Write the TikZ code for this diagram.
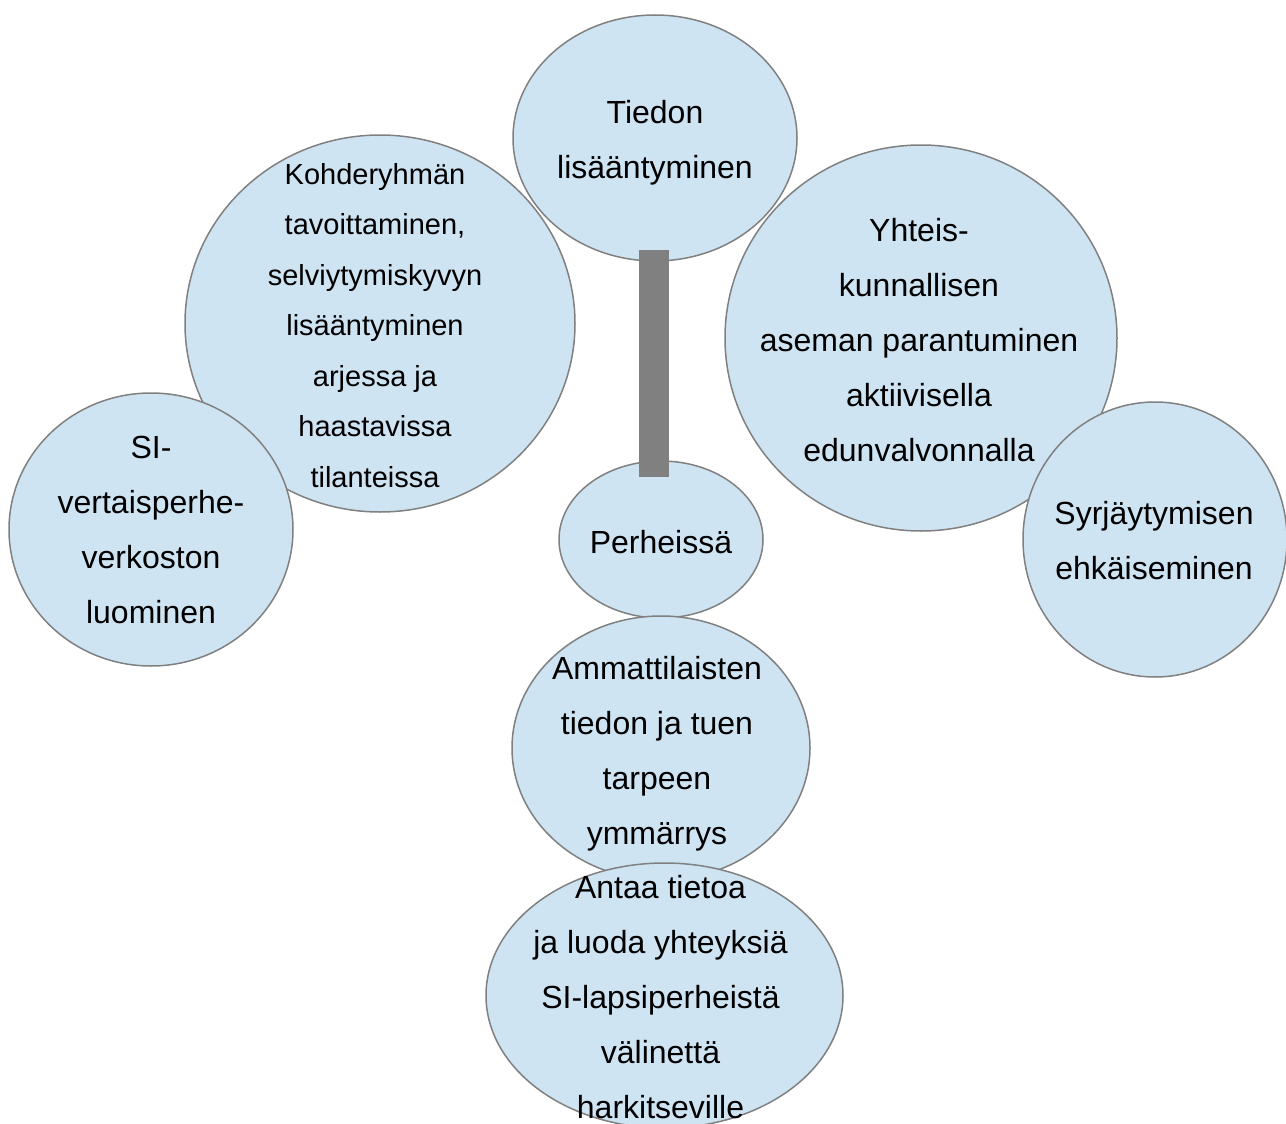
\documentclass[tikz,border=0pt]{standalone}
\usepackage{fontspec}
\setmainfont{Liberation Sans}
\usepackage{xcolor}
\usepackage{tikz}
\usetikzlibrary{shapes.geometric, positioning}

\definecolor{bubblefill}{HTML}{CFE4F2}
\definecolor{bubbleline}{HTML}{808080}

\begin{document}
\begin{tikzpicture}[x=1pt, y=-1pt,
goal/.style={ellipse, draw=bubbleline, fill=bubblefill, line width=1.5pt, inner sep=0pt},
goaltext/.style={align=center, inner sep=0pt, text=black, font=\fontsize{32}{55}\selectfont},
stem/.style={rectangle, fill=bubbleline, draw=none, minimum width=30pt, minimum height=227pt, inner sep=0pt}
]
	\useasboundingbox (0,0) rectangle (1286,1124);
	\node[goal, minimum width=390pt, minimum height=377pt] (n2) at (380,323.5) {};
	\node[goaltext, font=\fontsize{29}{50.5}\selectfont, shift={(-5,2)}] (t2) at (n2) {Kohderyhmän\\tavoittaminen,\\selviytymiskyvyn\\lisääntyminen\\arjessa ja\\haastavissa\\tilanteissa};
	\node[goal, minimum width=392pt, minimum height=386pt] (n4) at (921,338) {};
	\node[goaltext, shift={(-2,2)}] (t4) at (n4) {Yhteis-\\kunnallisen\\aseman parantuminen\\aktiivisella\\edunvalvonnalla};
	\node[goal, minimum width=284pt, minimum height=246pt] (n1) at (655,138) {};
	\node[goaltext, shift={(0,5)}] (t1) at (n1) {Tiedon\\lisääntyminen};
	\node[goal, minimum width=284pt, minimum height=273pt] (n3) at (151,529.5) {};
	\node[goaltext, shift={(0,0)}] (t3) at (n3) {SI-\\vertaisperhe-\\verkoston\\luominen};
	\node[goal, minimum width=264pt, minimum height=275pt] (n5) at (1155,539.5) {};
	\node[goaltext, shift={(-1,1)}] (t5) at (n5) {Syrjäytymisen\\ehkäiseminen};
	\node[goal, minimum width=204pt, minimum height=157pt] (n6) at (661,539.5) {};
	\node[goaltext, shift={(0,3)}] (t6) at (n6) {Perheissä};
	\node[goal, minimum width=298pt, minimum height=264pt] (n7) at (661,748) {};
	\node[goaltext, shift={(-4,5.5)}] (t7) at (n7) {Ammattilaisten\\tiedon ja tuen\\tarpeen\\ymmärrys};
	\node[goal, minimum width=357pt, minimum height=265pt] (n8) at (664.5,995.5) {};
	\node[goaltext, shift={(-4,1.5)}] (t8) at (n8) {Antaa tietoa\\ja luoda yhteyksiä\\SI-lapsiperheistä\\välinettä\\harkitseville};
	% varsi ylhaalta perheisiin
	\node[stem] (bar) at (654,363.5) {};
\end{tikzpicture}
\end{document}
